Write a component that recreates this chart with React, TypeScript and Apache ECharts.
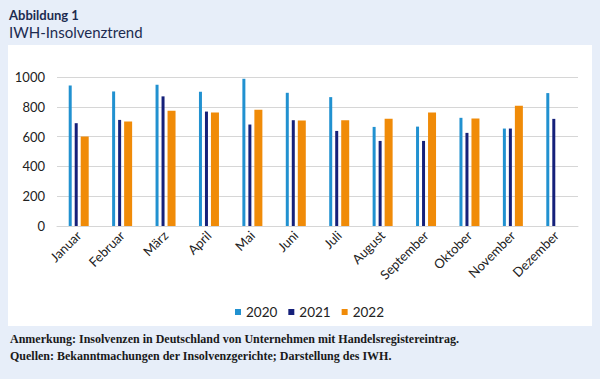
import React, { useEffect, useRef } from "react";
import * as echarts from "echarts";

const months = ["Januar", "Februar", "März", "April", "Mai", "Juni", "Juli", "August", "September", "Oktober", "November", "Dezember"];
const v2020 = [943, 903, 948, 901, 988, 894, 865, 665, 667, 726, 654, 892];
const v2021 = [690, 712, 870, 768, 681, 710, 638, 571, 571, 625, 654, 719];
const v2022 = [600, 701, 773, 762, 780, 708, 710, 719, 762, 721, 807, null];
const yTicks = { min: 0, max: 1000, interval: 200 };

const FONT = "Lato";

export default function App() {
  const ref = useRef<HTMLDivElement>(null);
  useEffect(() => {
    if (!ref.current) return;
    const chart = echarts.init(ref.current, null, { renderer: "svg" });
    chart.setOption({
      animation: false,
      backgroundColor: "#e7eef9",
      textStyle: { fontFamily: FONT },
      graphic: [
        { type: "rect", shape: { x: 8, y: 45, width: 584, height: 281 }, style: { fill: "#ffffff" }, z: -10 },
        { type: "text", left: 9, top: 8, style: { text: "Abbildung 1", font: `bold 13px ${FONT}`, fill: "#1c2b50" } },
        { type: "text", left: 9, top: 24, style: { text: "IWH-Insolvenztrend", font: `15px ${FONT}`, fill: "#1c2b50" } },
        { type: "text", left: 10, top: 333, style: { text: "Anmerkung: Insolvenzen in Deutschland von Unternehmen mit Handelsregistereintrag.", font: `bold 12px "Liberation Serif"`, fill: "#1a1a1a" } },
        { type: "text", left: 10, top: 350, style: { text: "Quellen: Bekanntmachungen der Insolvenzgerichte; Darstellung des IWH.", font: `bold 12px "Liberation Serif"`, fill: "#1a1a1a" } },
      ],
      legend: {
        top: 300,
        left: 230,
        icon: "rect",
        itemWidth: 6,
        itemHeight: 6,
        itemGap: 11,
        textStyle: { fontSize: 13.5, color: "#222", fontFamily: FONT },
        data: ["2020", "2021", "2022"],
      },
      grid: { left: 57, right: 22, top: 77, bottom: 153, containLabel: false },
      xAxis: {
        type: "category",
        data: months,
        axisLine: { lineStyle: { color: "#d6d6d6", width: 1 } },
        axisTick: { show: false },
        axisLabel: { rotate: 45, fontSize: 13, color: "#222", margin: 7, interval: 0, fontFamily: FONT },
      },
      yAxis: {
        type: "value",
        min: yTicks.min,
        max: yTicks.max,
        interval: yTicks.interval,
        axisLine: { show: false },
        axisTick: { show: false },
        axisLabel: { fontSize: 13, color: "#222", margin: 12, fontFamily: FONT, formatter: (v: number) => String(v) },
        splitLine: { lineStyle: { color: "#d6d6d6", width: 1 } },
      },
      series: [
        { name: "2020", type: "bar", data: v2020, barWidth: 3, barGap: "100%", itemStyle: { color: "#2191d0" } },
        { name: "2021", type: "bar", data: v2021, barWidth: 3, barGap: "100%", itemStyle: { color: "#15207a" } },
        { name: "2022", type: "bar", data: v2022, barWidth: 8, barGap: "100%", itemStyle: { color: "#f08b08" } },
      ],
    });
    return () => chart.dispose();
  }, []);
  return <div ref={ref} style={{ position: "fixed", left: 0, top: 0, width: 600, height: 379 }} />;
}
